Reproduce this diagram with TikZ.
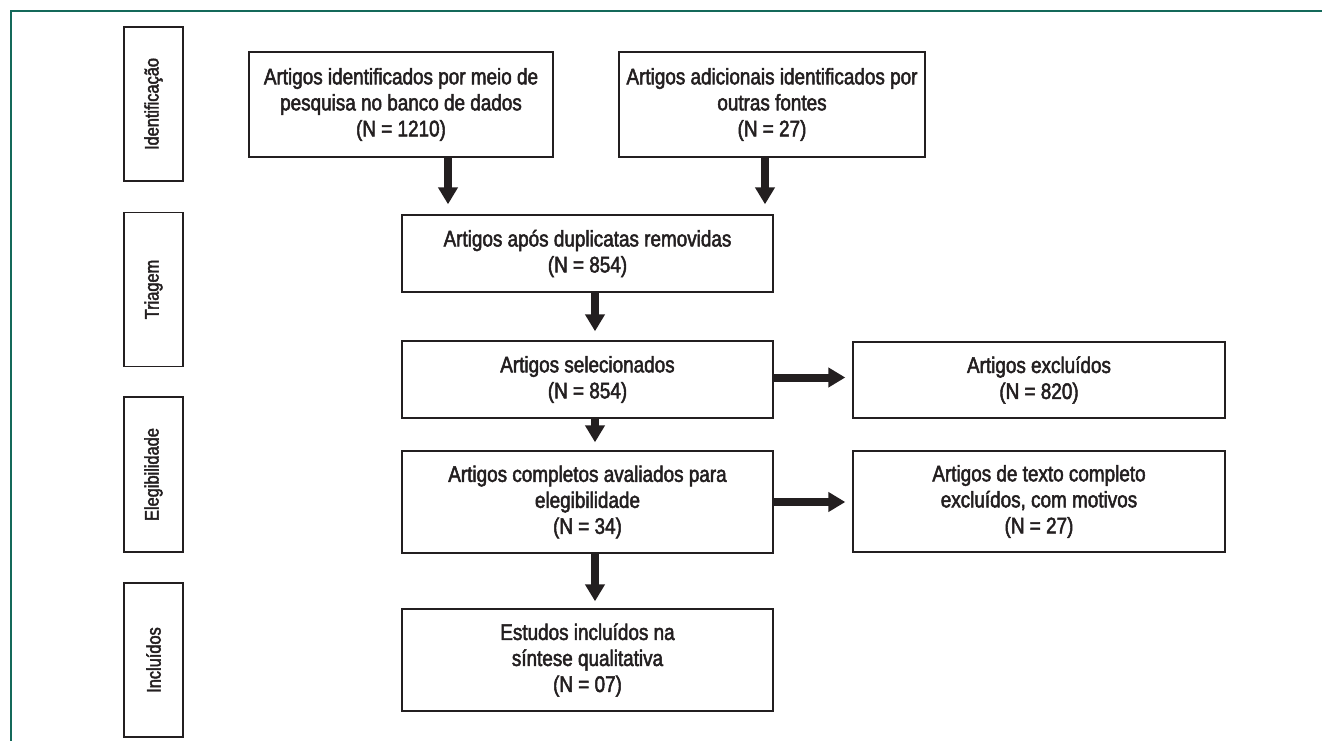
\documentclass[tikz,border=0pt]{standalone}
\usepackage{fontspec}
\setmainfont{Liberation Sans}[FakeStretch=0.84,FakeBold=2.2]
\usetikzlibrary{arrows.meta,calc}
\definecolor{frameteal}{RGB}{20,105,90}
\definecolor{ink}{RGB}{35,31,32}
\tikzset{
  box/.style={draw=ink,line width=1.4pt,inner sep=0pt,align=center,text=ink,
    font=\fontsize{22.5}{26}\selectfont},
  phase/.style={draw=ink,line width=1.4pt,inner sep=0pt,minimum width=59pt,minimum height=154pt,
    text=ink,font=\fontsize{19.5}{20}\selectfont},
  fat/.style={draw=ink,line width=8pt,-{Triangle[width=19pt,length=17pt]},shorten >=7pt}
}
\begin{document}
\begin{tikzpicture}[x=1pt,y=-1pt]
\useasboundingbox (0,0) rectangle (1322,741);
\draw[frameteal,line width=2pt] (11,741) -- (11,11) -- (1322,11);
% phase labels
\node[phase] (idL) at (153.5,104) {\rotatebox{90}{Identificação}};
\node[phase] (triL) at (153.5,289.5) {\rotatebox{90}{Triagem}};
\node[phase,minimum height=155pt] (eleL) at (153.5,474.5) {\rotatebox{90}{Elegibilidade}};
\node[phase] (incL) at (153.5,660) {\rotatebox{90}{Incluídos}};
% boxes
\node[box,minimum width=304pt,minimum height=105pt] (A) at (401,104.5)
  {Artigos identificados por meio de\\pesquisa no banco de dados\\(N = 1210)};
\node[box,minimum width=306pt,minimum height=105pt] (B) at (772,104.5)
  {Artigos adicionais identificados por\\outras fontes\\(N = 27)};
\node[box,minimum width=371pt,minimum height=77pt] (C) at (587.5,253.5)
  {Artigos após duplicatas removidas\\(N = 854)};
\node[box,minimum width=371pt,minimum height=77pt] (D) at (587.5,379.5)
  {Artigos selecionados\\(N = 854)};
\node[box,minimum width=372pt,minimum height=76pt] (X1) at (1039,380)
  {Artigos excluídos\\(N = 820)};
\node[box,minimum width=371pt,minimum height=102pt] (E) at (587.5,502)
  {Artigos completos avaliados para\\elegibilidade\\(N = 34)};
\node[box,minimum width=372pt,minimum height=101pt] (X2) at (1039,501.5)
  {Artigos de texto completo\\excluídos, com motivos\\(N = 27)};
\node[box,minimum width=371pt,minimum height=102pt] (G) at (587.5,660)
  {Estudos incluídos na\\síntese qualitativa\\(N = 07)};
% arrows
\coordinate (xa) at (448,0);
\coordinate (xb) at (765,0);
\coordinate (xm) at (595,0);
\draw[fat,shorten >=10pt] (A.south -| xa) -- (C.north -| xa);
\draw[fat,shorten >=10pt] (B.south -| xb) -- (C.north -| xb);
\draw[fat,shorten >=9pt] (C.south -| xm) -- (D.north -| xm);
\draw[fat,shorten >=8pt] (D.south -| xm) -- (E.north -| xm);
\draw[fat] (E.south -| xm) -- (G.north -| xm);
\draw[fat] ([yshift=2pt]D.east) -- ([yshift=2pt]D.east -| X1.west);
\draw[fat] (E.east) -- (E.east -| X2.west);
\end{tikzpicture}
\end{document}
